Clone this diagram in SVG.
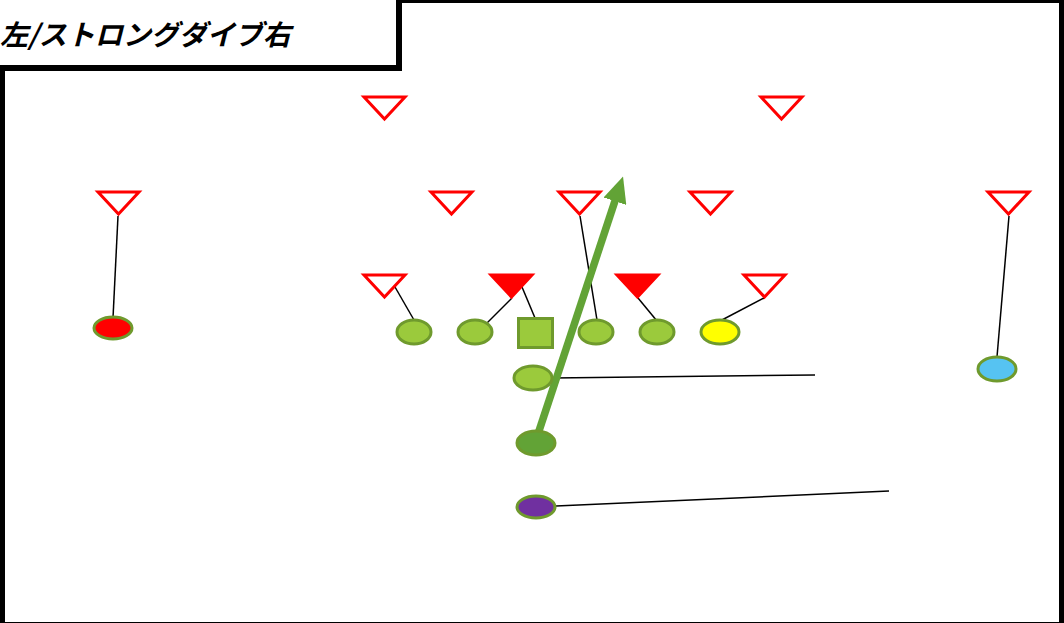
<svg xmlns="http://www.w3.org/2000/svg" width="1064" height="623" viewBox="0 0 1064 623">
<style>
.tri{fill:#fff;stroke:#ff0000;stroke-width:3;stroke-linejoin:miter}
.trif{fill:#ff0000;stroke:#ff0000;stroke-width:3}
.pl{stroke:#6f9a2d;stroke-width:3}
.lg{fill:#9bca3c}
.ln{stroke:#000;stroke-width:1.5;fill:none}
.title{font-family:"Noto Sans CJK JP","Noto Sans CJK SC",sans-serif;font-size:28px;font-weight:bold;font-style:italic;fill:#000}
</style>
<defs>
<marker id="ah" markerUnits="userSpaceOnUse" markerWidth="26" markerHeight="24" refX="1" refY="12" orient="auto">
<path d="M0,0 L26,12 L0,24 z" fill="#62a336"/>
</marker>
</defs>
<rect x="0" y="0" width="1064" height="623" fill="#fff"/>
<rect x="2.5" y="0.5" width="1059" height="624" fill="none" stroke="#000" stroke-width="5"/>
<g id="title">
<rect x="-10" y="-10" width="409" height="78" fill="#fff" stroke="#000" stroke-width="6"/>
<text class="title" x="0" y="45">左/ストロングダイブ右</text>
</g>
<g id="connectors">
<line class="ln" x1="118" y1="216" x2="113" y2="318"/>
<line class="ln" x1="1009" y1="216" x2="997" y2="357"/>
<line class="ln" x1="395" y1="287" x2="414" y2="320"/>
<line class="ln" x1="512" y1="298" x2="487" y2="323"/>
<line class="ln" x1="522" y1="287" x2="535" y2="318"/>
<line class="ln" x1="580" y1="216" x2="597" y2="320"/>
<line class="ln" x1="638" y1="298" x2="657" y2="321"/>
<line class="ln" x1="764" y1="298" x2="720" y2="321"/>
<line class="ln" x1="553" y1="378" x2="815" y2="375"/>
<line class="ln" x1="556" y1="506" x2="889" y2="491"/>
<line x1="536" y1="440" x2="615.2" y2="200.3" stroke="#62a336" stroke-width="7.5" marker-end="url(#ah)"/>
</g>
<g id="def-row1">
<polygon class="tri" points="364,97 405,97 384.5,119"/>
<polygon class="tri" points="761,97 802,97 781.5,119"/>
</g>
<g id="def-row2">
<polygon class="tri" points="98,192 139,192 118.5,214"/>
<polygon class="tri" points="431,192 472,192 451.5,214"/>
<polygon class="tri" points="559,192 600,192 579.5,214"/>
<polygon class="tri" points="690,192 731,192 710.5,214"/>
<polygon class="tri" points="988,192 1029,192 1008.5,214"/>
</g>
<g id="def-row3">
<polygon class="tri" points="364,275 405,275 384.5,297"/>
<polygon class="trif" points="491,275 532,275 511.5,297"/>
<polygon class="trif" points="617,275 658,275 637.5,297"/>
<polygon class="tri" points="744,275 785,275 764.5,297"/>
</g>
<g id="offense">
<ellipse id="wr-left" class="pl" cx="113" cy="328" rx="19" ry="11" fill="#ff0000"/>
<ellipse id="lt" class="pl lg" cx="414" cy="332" rx="17" ry="12"/>
<ellipse id="lg" class="pl lg" cx="475" cy="332" rx="17" ry="12"/>
<rect id="c" class="pl lg" x="518.5" y="318.5" width="34" height="29"/>
<ellipse id="rg" class="pl lg" cx="596" cy="332" rx="17" ry="12"/>
<ellipse id="rt" class="pl lg" cx="657" cy="332" rx="17" ry="12"/>
<ellipse id="te" class="pl" cx="720" cy="332" rx="19" ry="12" fill="#ffff00"/>
<ellipse id="wr-right" class="pl" cx="997" cy="369" rx="19" ry="12" fill="#56c3f2"/>
<ellipse id="qb" class="pl lg" cx="533" cy="378" rx="19" ry="12"/>
<ellipse id="fb" class="pl" cx="536" cy="443" rx="19" ry="12" fill="#62a336"/>
<ellipse id="tb" class="pl" cx="536" cy="507" rx="19" ry="11" fill="#7030a0"/>
</g>
</svg>
